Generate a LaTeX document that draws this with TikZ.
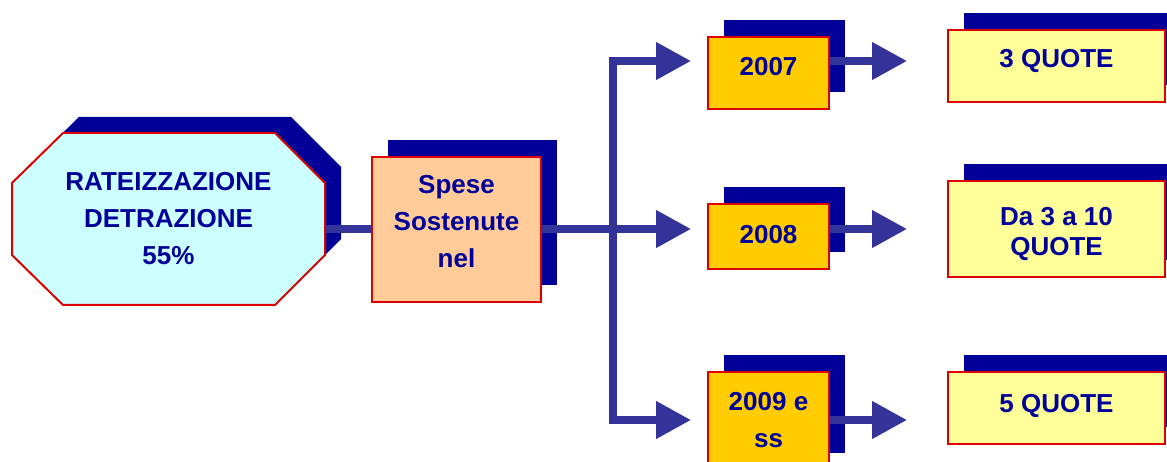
\documentclass[tikz,border=0pt]{standalone}
\usepackage{fontspec}
\setmainfont{Liberation Sans}
\usetikzlibrary{arrows.meta,shadows}
\definecolor{shadowblue}{HTML}{000099}
\definecolor{textblue}{HTML}{000099}
\definecolor{flowblue}{HTML}{333399}
\definecolor{edgered}{HTML}{DD0000}
\definecolor{octcyan}{HTML}{CCFFFF}
\definecolor{spesepeach}{HTML}{FFCC99}
\definecolor{yearorange}{HTML}{FFCC00}
\definecolor{quoteyellow}{HTML}{FFFF99}
\newcommand{\octoutline}{(63,133) -- (275,133) -- (325,183) -- (325,255) -- (275,305) -- (63,305) -- (12,255) -- (12,183) -- cycle}

\begin{document}
\begin{tikzpicture}[x=1pt,y=-1pt,
    boxtext/.style={inner sep=0pt,align=center,text=textblue,font=\fontsize{26}{37}\selectfont\bfseries},
    framed/.style={boxtext,draw=edgered,line width=2pt,
      general shadow={fill=shadowblue,shadow xshift=16pt,shadow yshift=17pt}},
    spesebox/.style={framed,fill=spesepeach,minimum width=169pt},
    yearbox/.style={framed,fill=yearorange,minimum width=121pt},
    quotebox/.style={framed,fill=quoteyellow,minimum width=217pt},
    flow/.style={flowblue,line width=7.5pt},
    flowarrow/.style={flow,-{Triangle[length=35pt,width=36pt]}}
  ]
  \path[use as bounding box,clip] (0,0) rectangle (1167,462);

  % octagon with its shadow
  \fill[shadowblue,shift={(16,-16)}] \octoutline;
  \draw[edgered,line width=2pt,fill=octcyan] \octoutline;
  \node[boxtext,minimum width=313pt] (rat) at (168.5,219) {RATEIZZAZIONE\\DETRAZIONE\\55\%};

  \node[spesebox,text height=111pt,text depth=34pt] (spese) at (456.5,229.5) {Spese\\Sostenute\\nel};

  \node[yearbox,text height=39pt,text depth=33pt] (y07) at (768.5,73) {2007};
  \node[yearbox,text height=40pt,text depth=25pt] (y08) at (768.5,236.5) {2008};
  \node[yearbox,text height=75pt,text depth=23pt] (y09) at (768.5,421) {2009 e\\ss};

  \node[quotebox,text height=38pt,text depth=34pt] (q1) at (1056.5,66) {3 QUOTE};
  \node[quotebox,text height=75pt,text depth=21pt,font=\fontsize{26}{30}\selectfont\bfseries] (q2) at (1056.5,229) {Da 3 a 10\\QUOTE};
  \node[quotebox,text height=40pt,text depth=32pt] (q3) at (1056.5,408) {5 QUOTE};

  \coordinate (r1) at (613,61);
  \coordinate (split) at (613,229);
  \coordinate (r3) at (613,420);

  \draw[flow] (rat.east |- split) -- (spese.west |- split);
  \draw[flowarrow,shorten >=16pt] (spese.east |- split) -- (y08.west |- split);
  \draw[flow,{Triangle[length=35pt,width=36pt]}-{Triangle[length=35pt,width=36pt]},shorten <=16pt,shorten >=16pt]
    (y07.west |- r1) -- (split |- r1) -- (split |- r3) -- (y09.west |- r3);

  \draw[flowarrow,shorten >=40pt] (y07.east |- r1) -- (q1.west |- r1);
  \draw[flowarrow,shorten >=40pt] (y08.east |- split) -- (q2.west |- split);
  \draw[flowarrow,shorten >=40pt] (y09.east |- r3) -- (q3.west |- r3);
\end{tikzpicture}
\end{document}
